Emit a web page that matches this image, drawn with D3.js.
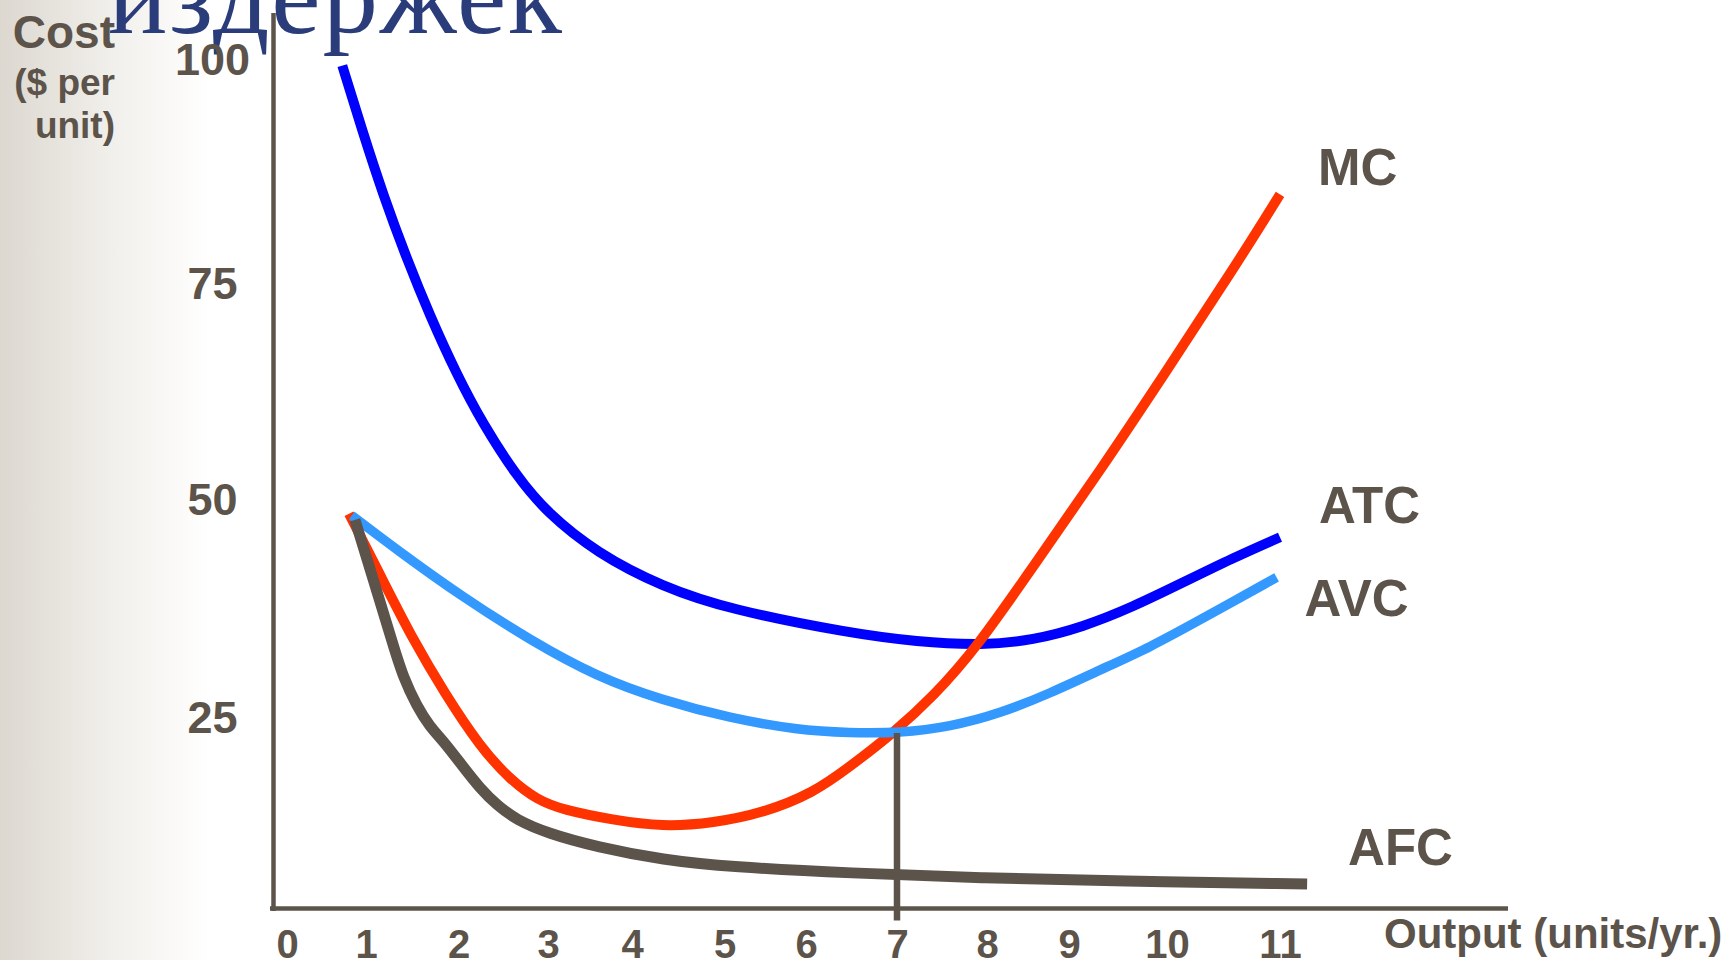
<!DOCTYPE html>
<html>
<head>
<meta charset="utf-8">
<script src="https://cdn.jsdelivr.net/npm/d3@7"></script>
<style>
html,body{margin:0;padding:0;background:#fff;overflow:hidden;}
svg{display:block;}
text{font-family:"Liberation Sans",Arial,sans-serif;font-weight:bold;fill:#5c534a;}
</style>
</head>
<body>
<script>
// axis ticks
var outputTicks = [0,1,2,3,4,5,6,7,8,9,10,11];
var costTicks = [25,50,75,100];

// cost curves, [output, cost]
var atc = [[0.70,99.2],[0.95,92.0],[1.19,84.6],[1.44,77.6],[1.69,71.1],[1.98,64.3],[2.27,58.6],[2.65,52.5],[2.99,48.3],
           [3.58,43.7],[4.33,39.8],[5.07,37.2],[6.48,34.5],[7.22,33.5],[7.96,33.1],[8.56,33.7],[9.14,35.2],[9.65,37.5],
           [10.14,40.3],[10.58,43.1],[11.0,45.5]];
var avc = [[0.82,48.0],[1.34,44.0],[2.05,38.6],[2.80,33.7],[3.58,29.5],[4.33,26.8],[5.07,24.7],[5.89,23.2],[6.48,22.8],
           [7.03,22.8],[7.59,23.6],[8.16,25.3],[8.77,27.6],[9.32,30.3],[9.83,32.9],[10.29,36.0],[10.97,40.9]];
var mc  = [[0.785,48.2],[1.18,40.6],[1.51,33.7],[1.85,27.6],[2.24,21.0],[2.58,16.7],[2.88,14.1],[3.18,12.8],[3.77,11.5],
           [4.33,10.6],[4.88,11.1],[5.47,12.4],[6.08,15.0],[6.48,18.4],[6.96,22.8],[7.40,27.2],[7.89,32.9],[8.56,42.1],
           [9.32,53.2],[10.0,64.8],[10.58,76.3],[11.0,84.8]];
var afc = [[0.86,47.5],[1.08,40.6],[1.30,32.9],[1.40,29.5],[1.55,26.1],[1.69,23.6],[1.84,21.7],[2.05,18.4],[2.24,15.6],
           [2.43,13.4],[2.65,11.5],[2.99,9.8],[3.58,8.0],[4.34,6.3],[5.07,5.4],[6.48,4.6],[7.96,3.96],[9.49,3.57],[11.24,3.18]];
var dropPoint = [7, 22.8]; // AVC minimum

var W = 1729, H = 960;
var ink = "#5c544b";

var svg = d3.select("body").append("svg").attr("width",W).attr("height",H);

// grey fade on the left edge
var grad = svg.append("defs").append("linearGradient").attr("id","fade");
grad.append("stop").attr("offset","0%").attr("stop-color","#dcd8d0");
grad.append("stop").attr("offset","55%").attr("stop-color","#f2f0ec");
grad.append("stop").attr("offset","100%").attr("stop-color","#ffffff");
svg.append("rect").attr("width",210).attr("height",H).attr("fill","url(#fade)");

// tick labels are not evenly spaced in the original, so both scales are piecewise
var x = d3.scaleLinear().domain(outputTicks)
          .range([287,366,458.6,548,632,724.6,806,897,987,1069,1167,1280]);
var y = d3.scaleLinear().domain([0].concat(costTicks))
          .range([908.5,716,498,282,58.5]);

// y axis title
var yTitle = svg.append("text").attr("text-anchor","end");
yTitle.append("tspan").attr("x",115).attr("y",48).style("font-size","46px").text("Cost");
yTitle.append("tspan").attr("x",115).attr("y",95).style("font-size","37px").text("($ per");
yTitle.append("tspan").attr("x",115).attr("y",138).style("font-size","37px").text("unit)");

// slide title, cut by the top edge
svg.append("text")
    .attr("x",108).attr("y",33)
    .attr("textLength",454)
    .style("font-family","'Liberation Serif','Times New Roman',serif")
    .style("font-weight","normal")
    .style("font-size","111px")
    .style("fill","#2b3c7b")
    .text("издержек");

// axis lines
svg.append("line").attr("x1",273.5).attr("y1",13).attr("x2",273.5).attr("y2",911)
    .attr("stroke",ink).attr("stroke-width",4.5);
svg.append("line").attr("x1",270).attr("y1",y(0)).attr("x2",1508).attr("y2",y(0))
    .attr("stroke",ink).attr("stroke-width",4.5);

// tick labels
var gx = svg.append("g").attr("transform","translate(0,"+y(0)+")")
    .call(d3.axisBottom(x).tickValues(outputTicks).tickSize(0).tickPadding(21));
gx.select(".domain").remove();
gx.selectAll("text").style("font-size","40px");

var gy = svg.append("g").attr("transform","translate(273.5,0)")
    .call(d3.axisLeft(y).tickValues(costTicks).tickSize(0));
gy.select(".domain").remove();
gy.selectAll("text").style("font-size","45px")
    .attr("text-anchor","middle").attr("x",-61).attr("dy","0.36em");

svg.append("text").attr("x",1384).attr("y",948).style("font-size","42px").text("Output (units/yr.)");

// curves (b-spline smooths the hand-read points)
var line = d3.line()
    .x(function(d){ return x(d[0]); })
    .y(function(d){ return y(d[1]); })
    .curve(d3.curveBasis);

var series = [
  {name:"ATC", pts:atc, color:"#0000ff", width:10,   dx:39, dy:-14},
  {name:"MC",  pts:mc,  color:"#ff3300", width:10,   dx:38, dy:-9},
  {name:"AVC", pts:avc, color:"#3399ff", width:9.5,  dx:28, dy:39},
  {name:"AFC", pts:afc, color:ink,       width:11,   dx:41, dy:-19}
];

svg.selectAll("path.curve")
    .data(series)
    .enter().append("path")
      .attr("class","curve")
      .attr("d",function(d){ return line(d.pts); })
      .attr("fill","none")
      .attr("stroke",function(d){ return d.color; })
      .attr("stroke-width",function(d){ return d.width; })
      .attr("stroke-linejoin","round");

// drop line from the AVC minimum to the axis
svg.append("line")
    .attr("x1",x(dropPoint[0])).attr("y1",y(dropPoint[1]))
    .attr("x2",x(dropPoint[0])).attr("y2",y(0)+12)
    .attr("stroke",ink).attr("stroke-width",6.5);

// curve names at their right ends
svg.selectAll("text.name")
    .data(series)
    .enter().append("text")
      .attr("class","name")
      .attr("x",function(d){ var e = d.pts[d.pts.length-1]; return x(e[0]) + d.dx; })
      .attr("y",function(d){ var e = d.pts[d.pts.length-1]; return y(e[1]) + d.dy; })
      .style("font-size","51px")
      .text(function(d){ return d.name; });
</script>
</body>
</html>
